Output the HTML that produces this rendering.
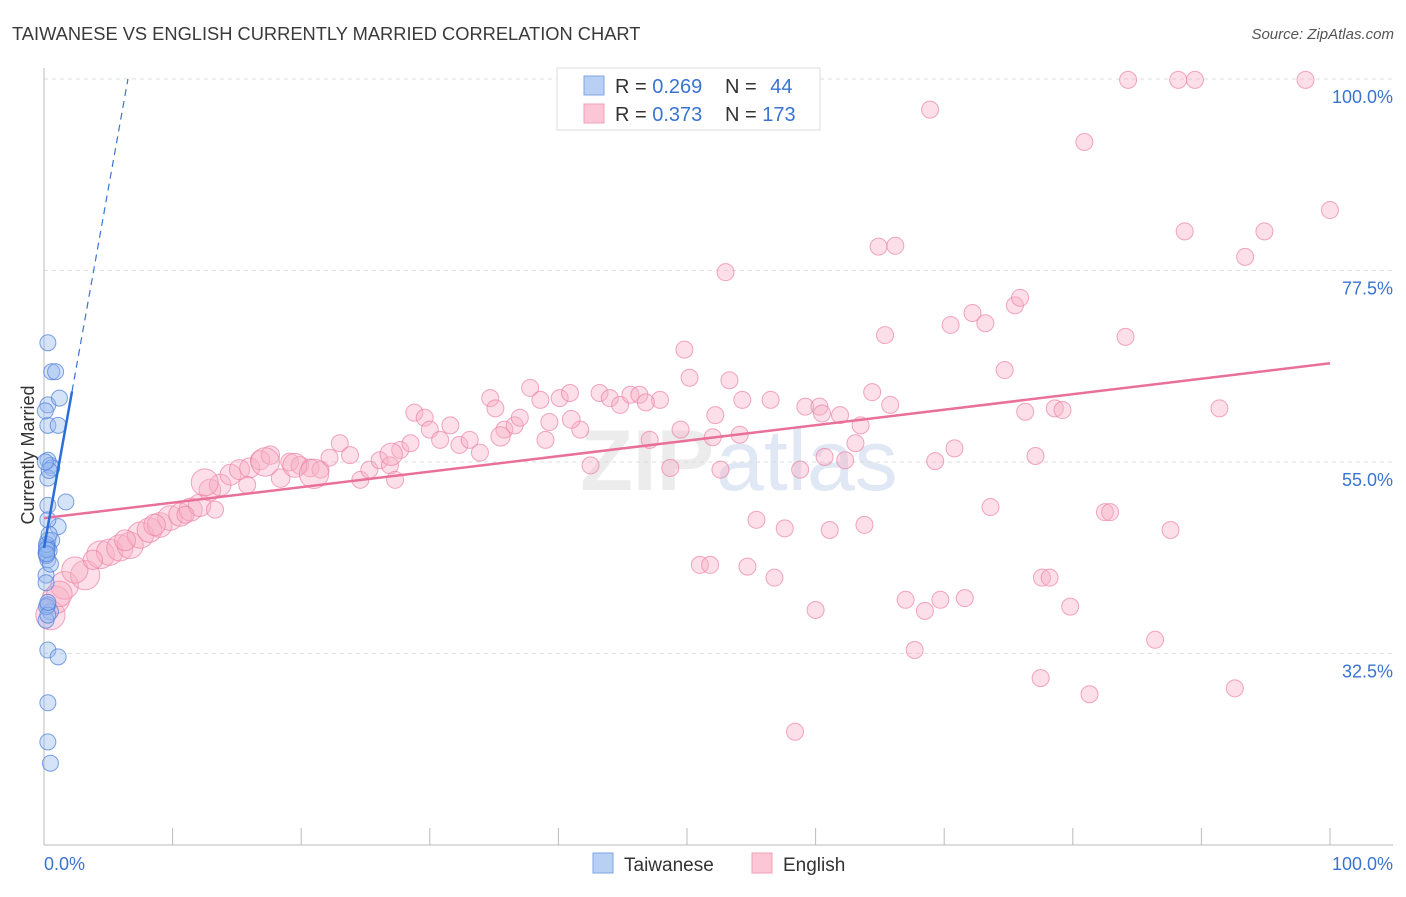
<!DOCTYPE html>
<html><head><meta charset="utf-8">
<style>
body{margin:0;background:#fff;font-family:"Liberation Sans",sans-serif;}
svg text{font-family:"Liberation Sans",sans-serif;}
</style></head>
<body>
<svg id="chart" width="1406" height="892" viewBox="0 0 1406 892">
<text x="12" y="40" font-size="18.3" fill="#3a3a3a">TAIWANESE VS ENGLISH CURRENTLY MARRIED CORRELATION CHART</text>
<text x="1394" y="39" font-size="15" fill="#555" text-anchor="end" font-style="italic">Source: ZipAtlas.com</text>
<text x="714" y="490" font-size="86" fill="#ececec" text-anchor="end" font-weight="bold">ZIP</text>
<text x="716" y="490" font-size="86" fill="#dfe8f4">atlas</text>
<g id="grid"></g>
<g id="axes"></g>
<g id="marks"></g>
<g id="legend">
<rect x="557" y="68" width="263" height="62" fill="#fff" stroke="#ddd"/>
<rect x="584" y="76" width="20" height="19" fill="#b8d0f4" stroke="#7fa6e4"/>
<rect x="584" y="104" width="20" height="19" fill="#fbc6d6" stroke="#f0a0b8"/>
<text x="615" y="93" font-size="20" fill="#333">R = <tspan fill="#3a74d0">0.269</tspan></text>
<text x="725" y="93" font-size="20" fill="#333">N = <tspan fill="#3a74d0" dx="8">44</tspan></text>
<text x="615" y="121" font-size="20" fill="#333">R = <tspan fill="#3a74d0">0.373</tspan></text>
<text x="725" y="121" font-size="20" fill="#333">N = <tspan fill="#3a74d0">173</tspan></text>
</g>
<g>
<rect x="593" y="853" width="20" height="20" fill="#b8d0f4" stroke="#7fa6e4"/>
<text x="624" y="871" font-size="19" fill="#333">Taiwanese</text>
<rect x="752" y="853" width="20" height="20" fill="#fbc6d6" stroke="#f0a0b8"/>
<text x="783" y="871" font-size="19" fill="#333">English</text>
</g>
<text x="34" y="455" font-size="18" fill="#333" text-anchor="middle" transform="rotate(-90 34 455)">Currently Married</text>
</svg>
<script>
const yTicks=[100,77.5,55,32.5];
const yTickLabels=["100.0%","77.5%","55.0%","32.5%"];
const xTickLabels=["0.0%","100.0%"];
const pinkX=[0.5,0.9,1.6,3.2,2.4,4.4,5.1,5.9,6.7,7.5,8.2,9.0,9.8,10.6,11.4,12.1,12.9,13.7,14.5,15.2,16.0,16.8,17.6,18.4,19.1,19.9,20.7,21.5,22.2,23.0,23.8,24.6,25.3,26.1,26.9,27.3,27.7,28.5,28.8,29.6,30.0,30.8,31.6,32.3,33.1,33.9,34.7,35.1,35.8,36.6,37.0,37.8,38.6,39.0,39.3,40.1,40.9,41.7,42.5,43.2,44.0,44.8,45.6,46.3,47.1,47.9,48.7,49.5,49.8,50.2,51.0,51.8,52.2,52.6,53.0,53.3,54.1,54.3,54.7,55.4,56.5,56.8,57.6,58.4,58.8,59.2,60.0,60.3,60.7,61.1,61.9,62.3,63.1,63.5,63.8,64.4,64.9,65.4,65.8,66.2,67.0,67.7,68.5,68.9,69.3,69.7,70.5,70.8,71.6,72.2,73.2,73.6,74.7,75.5,75.9,76.3,77.1,77.5,77.6,78.2,78.6,79.2,79.8,80.9,81.3,82.5,82.9,84.1,84.3,86.4,87.6,88.2,88.7,89.5,91.4,92.6,93.4,94.9,98.1,100,11.0,13.3,15.8,19.5,8.6,6.3,3.8,1.2,12.5,17.2,21.0,27.0,35.5,41.0,46.8,52.0,60.5];
const pinkY=[37.0,38.8,40.5,41.7,42.3,44.1,44.4,44.9,45.2,46.4,47.0,47.6,48.4,48.8,49.4,49.9,51.7,52.3,53.5,54.1,54.3,55.2,55.8,53.1,55.0,54.6,54.3,54.1,55.5,57.2,55.8,52.9,54.1,55.2,54.6,52.9,56.4,57.2,60.8,60.2,58.8,57.6,59.3,57.0,57.6,56.1,62.5,61.3,58.8,59.3,60.2,63.7,62.3,57.6,59.7,62.5,63.1,58.8,54.6,63.1,62.5,61.7,62.9,62.9,57.6,62.3,54.3,58.8,68.2,64.9,42.9,42.9,60.5,54.1,77.3,64.6,58.2,62.3,42.7,48.2,62.3,41.4,47.2,23.3,54.1,61.5,37.6,61.5,55.6,47.0,60.5,55.2,57.2,59.3,47.6,63.2,80.3,69.9,61.7,80.4,38.8,32.9,37.5,96.4,55.1,38.8,71.1,56.6,39.0,72.5,71.3,49.7,65.8,73.4,74.3,60.9,55.7,29.6,41.4,41.4,61.3,61.1,38.0,92.6,27.7,49.1,49.1,69.7,99.9,34.1,47.0,99.9,82.1,99.9,61.3,28.4,79.1,82.1,99.9,84.6,48.8,49.4,52.3,54.6,47.6,45.8,43.5,39.5,52.6,55.0,53.6,55.9,58.0,60.0,62.0,57.9,60.7];
const pinkW=[2.6,2.4,2.4,2.6,2.2,2.4,2.2,2.2,2.2,2.2,2.0,2.0,2.0,1.8,1.8,1.7,1.6,1.6,1.5,1.4,1.4,1.3,1.2,1.2,1.1,1.1,1.1,1,1,1,1,1,1,1,1,1,1,1,1,1,1,1,1,1,1,1,1,1,1,1,1,1,1,1,1,1,1,1,1,1,1,1,1,1,1,1,1,1,1,1,1,1,1,1,1,1,1,1,1,1,1,1,1,1,1,1,1,1,1,1,1,1,1,1,1,1,1,1,1,1,1,1,1,1,1,1,1,1,1,1,1,1,1,1,1,1,1,1,1,1,1,1,1,1,1,1,1,1,1,1,1,1,1,1,1,1,1,1,1,1,1,1,1,1.9,1.6,1.5,1.3,2.1,2.3,2.5,2.6,1.7,1.3,1.1,1,1,1,1,1,1];
const blueX=[0.3,0.6,0.9,0.3,1.2,0.3,1.1,0.3,0.5,0.6,1.7,0.3,0.3,1.1,0.3,0.6,0.3,0.16,0.3,0.16,0.16,0.3,0.5,0.16,0.3,1.1,0.3,0.3,0.5,0.3,0.2,0.4,0.2,0.5,0.2,0.4,0.2,0.3,0.1,0.4,0.2,0.3,0.1,0.2];
const blueY=[69.0,65.6,65.6,61.7,62.5,59.3,59.3,55.2,54.6,54.3,50.3,53.1,49.9,47.4,45.8,45.8,44.9,44.3,43.5,41.7,40.8,38.2,37.4,36.4,32.9,32.1,26.7,22.1,19.6,48.2,45.0,44.6,44.0,43.0,45.3,54.0,38.0,37.0,55.0,46.5,44.7,38.5,61.0,44.2];
const pinkLine=[48.4,66.6];
const blueIntercept=44.9, blueSlope=8.44, blueSolidEnd=2.18;

const NS="http://www.w3.org/2000/svg";
const X0=44,X1=1330,YTOP=79,YSCALE=8.51;
function sx(v){return X0+(X1-X0)*v/100;}
function sy(v){return YTOP+(100-v)*YSCALE;}
function mk(tag,attrs,parent){const e=document.createElementNS(NS,tag);for(const k in attrs)e.setAttribute(k,attrs[k]);parent.appendChild(e);return e;}
const grid=document.getElementById('grid'),axes=document.getElementById('axes'),marks=document.getElementById('marks');
yTicks.forEach((t,i)=>{
  const l=mk('line',{x1:44,x2:1393,y1:sy(t),y2:sy(t),stroke:'#ddd','stroke-dasharray':'4,4'},grid);
  
  
  const tx=mk('text',{x:1393,y:sy(t)+24,'font-size':18,fill:'#3a74d0','text-anchor':'end'},axes);
  tx.textContent=yTickLabels[i];
  
  
});
const ya=mk('line',{x1:44,x2:44,y1:68,y2:845,stroke:'#bbb'},axes);


const xa=mk('line',{x1:44,x2:1393,y1:845,y2:845,stroke:'#bbb'},axes);


for(let i=1;i<=10;i++){
  const tk=mk('line',{x1:sx(i*10),x2:sx(i*10),y1:828,y2:845,stroke:'#bbb'},axes);
  
  
}
const xl0=mk('text',{x:44,y:870,'font-size':18,fill:'#3a74d0'},axes);xl0.textContent=xTickLabels[0];


const xl1=mk('text',{x:1393,y:870,'font-size':18,fill:'#3a74d0','text-anchor':'end'},axes);xl1.textContent=xTickLabels[1];



pinkX.forEach((x,i)=>{
  const c=mk('circle',{cx:sx(x),cy:sy(pinkY[i]),r:8.5*(1+(pinkW[i]-1)*0.45),fill:'rgba(248,175,198,0.4)',stroke:'rgba(236,130,165,0.7)','stroke-width':1},marks);
  
  
});
blueX.forEach((x,i)=>{
  const c=mk('circle',{cx:sx(x),cy:sy(blueY[i]),r:8,fill:'rgba(150,185,240,0.4)',stroke:'rgba(80,130,220,0.75)','stroke-width':1},marks);
  
  
});
const pl=mk('line',{x1:sx(0),y1:sy(pinkLine[0]),x2:sx(100),y2:sy(pinkLine[1]),stroke:'#e8709a','stroke-width':2.5},marks);


const bEnd=(100-blueIntercept)/blueSlope;
const bd=mk('line',{x1:sx(blueSolidEnd),y1:sy(blueIntercept+blueSlope*blueSolidEnd),x2:sx(bEnd),y2:sy(100),stroke:'#3a74d0','stroke-width':1.2,'stroke-dasharray':'7,5'},marks);


const bl=mk('line',{x1:sx(0),y1:sy(blueIntercept),x2:sx(blueSolidEnd),y2:sy(blueIntercept+blueSlope*blueSolidEnd),stroke:'#2a6fd6','stroke-width':2.5},marks);


</script>
</body></html>
